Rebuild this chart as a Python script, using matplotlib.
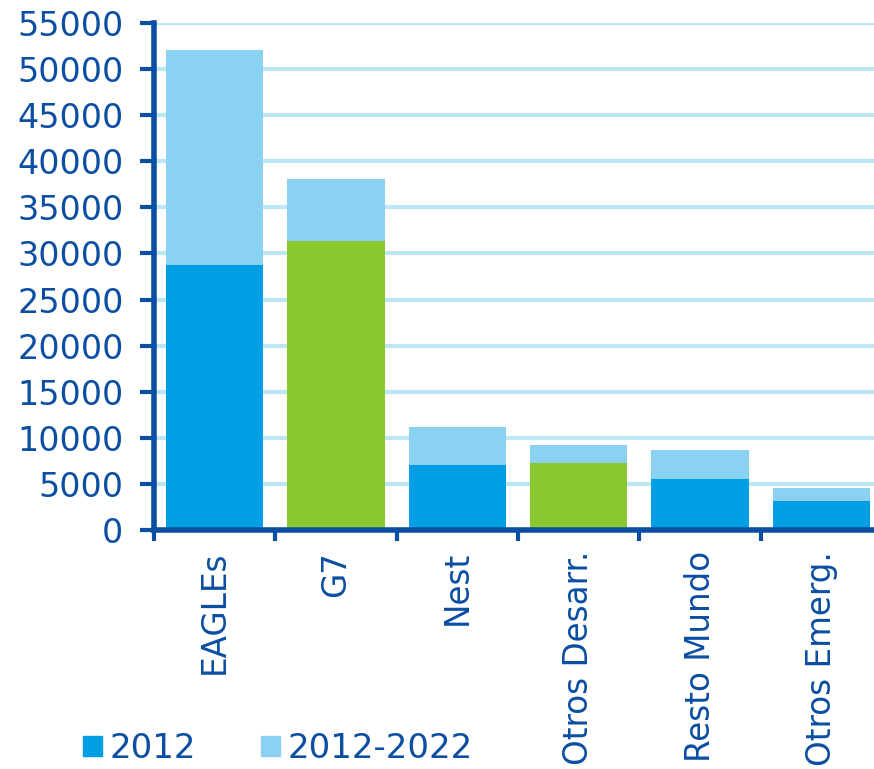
import matplotlib.pyplot as plt
import numpy as np
from matplotlib.patches import Patch

# data
categories = ["EAGLEs", "G7", "Nest", "Otros Desarr.", "Resto Mundo", "Otros Emerg."]
base_2012 = [28700, 31400, 7000, 7270, 5500, 3180]
total_2022 = [52100, 38100, 11200, 9220, 8700, 4560]
developed = [False, True, False, True, False, False]
yticks = list(range(0, 55001, 5000))

dark_blue = "#009FE3"
light_blue = "#8AD1F2"
green = "#8AC82F"
text_col = "#0B4EA2"
grid_col = "#BDE6F7"

plt.rcParams['font.family'] = ['DejaVu Sans']

fig = plt.figure(figsize=(8.74, 7.69), dpi=100)
ax = fig.add_axes([0.1762, 0.3108, 0.833, 0.6592])

x = np.arange(len(categories))
growth = [t - b for t, b in zip(total_2022, base_2012)]
base_cols = [green if d else dark_blue for d in developed]

ax.bar(x, base_2012, width=0.8, color=base_cols, zorder=3)
ax.bar(x, growth, bottom=base_2012, width=0.8, color=light_blue, zorder=3)

ax.set_xlim(-0.5, len(categories) - 0.5)
ax.set_ylim(0, 55000)
ax.set_yticks(yticks)
ax.set_yticklabels([str(v) for v in yticks], fontsize=24)

# category labels at centres, tick marks at boundaries
ax.set_xticks(x)
ax.set_xticklabels(categories, rotation=90, fontsize=23.5)
ax.tick_params(axis='x', which='major', length=0, pad=15)
ax.set_xticks(np.arange(-0.5, len(categories), 1.0), minor=True)
ax.tick_params(axis='x', which='minor', length=8, width=3, color=text_col, direction='out')

ax.tick_params(axis='y', length=10, width=3, color=text_col, pad=12)
ax.tick_params(labelcolor=text_col)

ax.yaxis.grid(True, color=grid_col, linewidth=3, zorder=0)
ax.set_axisbelow(True)

for side in ['top', 'right']:
    ax.spines[side].set_visible(False)
for side in ['left', 'bottom']:
    ax.spines[side].set_color(text_col)
    ax.spines[side].set_linewidth(4)
    ax.spines[side].set_zorder(4)

handles = [Patch(color=dark_blue, label="2012"), Patch(color=light_blue, label="2012-2022")]
leg = fig.legend(handles=handles, loc='lower left', bbox_to_anchor=(0.095, 0.005), ncol=2,
                 frameon=False, fontsize=24.5, handlelength=0.56, handleheight=0.56,
                 handletextpad=0.23, columnspacing=1.9, borderpad=0, borderaxespad=0)
for t in leg.get_texts():
    t.set_color(text_col)

fig.savefig("out.png", dpi=100)
